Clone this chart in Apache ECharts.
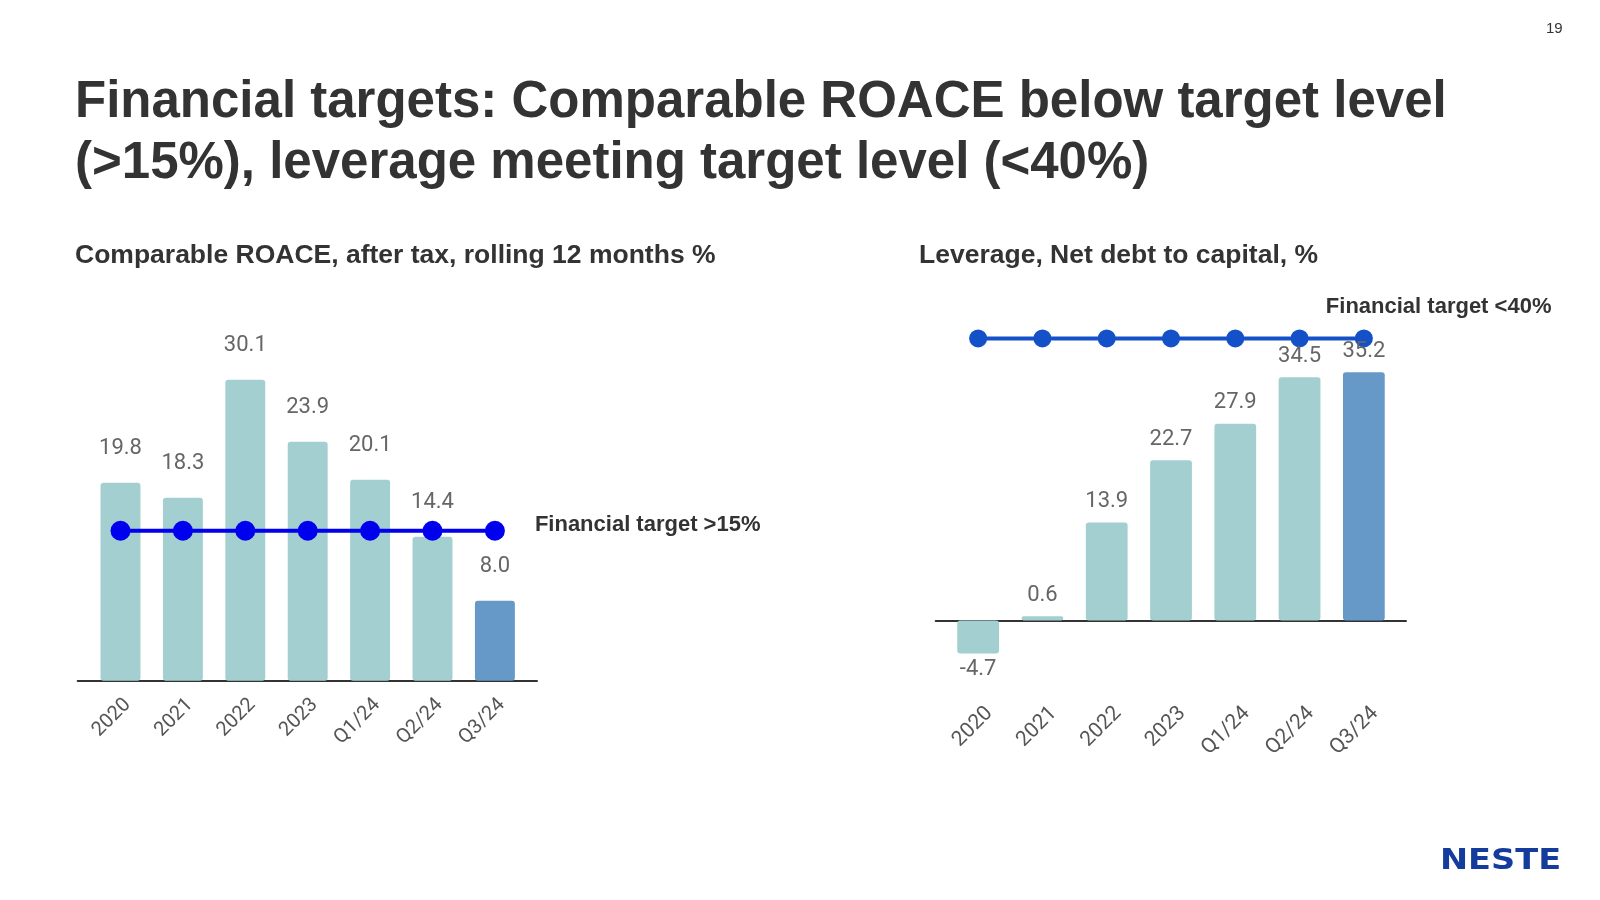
<!DOCTYPE html>
<html>
<head>
<meta charset="utf-8">
<style>
  html, body { margin: 0; padding: 0; background: #ffffff; }
  #chart { width: 1600px; height: 900px; }
</style>
<script src="https://cdn.jsdelivr.net/npm/echarts@6/dist/echarts.min.js"></script>
</head>
<body>
<div id="chart"></div>
<script>
const categories = ['2020', '2021', '2022', '2023', 'Q1/24', 'Q2/24', 'Q3/24'];
const roaceValues = [19.8, 18.3, 30.1, 23.9, 20.1, 14.4, 8.0];
const roaceTarget = [15, 15, 15, 15, 15, 15, 15];
const leverageValues = [-4.7, 0.6, 13.9, 22.7, 27.9, 34.5, 35.2];
const leverageTarget = [40, 40, 40, 40, 40, 40, 40];

const mainTitle = 'Financial targets: Comparable ROACE below target level\n(>15%), leverage meeting target level (<40%)';
const leftSubtitle = 'Comparable ROACE, after tax, rolling 12 months %';
const rightSubtitle = 'Leverage, Net debt to capital, %';
const leftTargetText = 'Financial target >15%';
const rightTargetText = 'Financial target <40%';
const pageNumber = '19';

const barColor = '#a3cfd0';
const currentColor = '#6699c8';
const valueFont = 'Roboto';
const lastIdx = categories.length - 1;

function barData(values, below) {
  return values.map((v, i) => ({
    value: v,
    itemStyle: { color: i === lastIdx ? currentColor : barColor },
    label: v < 0 ? { position: 'bottom', distance: below } : undefined
  }));
}
function lineData(values, text, offset) {
  return values.map((v, i) => i === lastIdx ? {
    value: v,
    label: {
      show: true, position: 'inside', align: 'left', verticalAlign: 'middle',
      offset: offset, formatter: text, color: '#333333', fontSize: 22,
      fontWeight: 'bold', fontFamily: 'Liberation Sans'
    }
  } : v);
}

const chart = echarts.init(document.getElementById('chart'), null, { renderer: 'canvas' });

const option = {
  animation: false,
  backgroundColor: '#ffffff',
  title: [
    { text: mainTitle, left: 70, top: 67,
      textStyle: { fontFamily: 'Liberation Sans', fontWeight: 'bold', fontSize: 51, lineHeight: 61, color: '#333333' } },
    { text: leftSubtitle, left: 70, top: 235,
      textStyle: { fontFamily: 'Liberation Sans', fontWeight: 'bold', fontSize: 26.5, lineHeight: 32, color: '#333333' } },
    { text: rightSubtitle, left: 914, top: 235,
      textStyle: { fontFamily: 'Liberation Sans', fontWeight: 'bold', fontSize: 26.5, lineHeight: 32, color: '#333333' } },
    { text: pageNumber, left: 1541, top: 15,
      textStyle: { fontFamily: 'Liberation Sans', fontWeight: 'normal', fontSize: 15, lineHeight: 18, color: '#333333' } }
  ],
  graphic: [
    { type: 'text', x: 1440, y: 848, scaleX: 1.2, scaleY: 1,
      style: { text: 'NESTE', font: 'bold 28px "DejaVu Sans"', fill: '#143c9c', textAlign: 'left', textVerticalAlign: 'top' } }
  ],
  grid: [
    { left: 89.3, top: 280.7, width: 436.8, height: 400 },
    { left: 946, top: 303.15, width: 450, height: 387.75 },
    { left: 77.7, top: 280.7, width: 459.3, height: 400 },
    { left: 935.7, top: 303.15, width: 470.3, height: 387.75 }
  ],
  xAxis: [
    { type: 'category', gridIndex: 0, data: categories,
      axisLine: { show: false }, axisTick: { show: false },
      axisLabel: { rotate: 45, fontSize: 20, fontFamily: valueFont, color: '#555555',
        verticalAlign: 'top', lineHeight: 20, margin: 14, interval: 0 } },
    { type: 'category', gridIndex: 1, data: categories,
      axisLine: { show: false }, axisTick: { show: false },
      axisLabel: { rotate: 45, fontSize: 21, fontFamily: valueFont, color: '#555555',
        verticalAlign: 'top', lineHeight: 32, margin: 8, interval: 0 } },
    { type: 'value', gridIndex: 2, min: 0, max: 1,
      axisLine: { show: true, onZero: true, lineStyle: { color: '#333333', width: 2 } },
      axisTick: { show: false }, axisLabel: { show: false }, splitLine: { show: false } },
    { type: 'value', gridIndex: 3, min: 0, max: 1,
      axisLine: { show: true, onZero: true, lineStyle: { color: '#333333', width: 2 } },
      axisTick: { show: false }, axisLabel: { show: false }, splitLine: { show: false } }
  ],
  yAxis: [
    { type: 'value', gridIndex: 0, min: 0, max: 40, show: false },
    { type: 'value', gridIndex: 1, min: -10, max: 45, show: false },
    { type: 'value', gridIndex: 2, min: 0, max: 40, show: false },
    { type: 'value', gridIndex: 3, min: -10, max: 45, show: false }
  ],
  series: [
    { type: 'bar', xAxisIndex: 0, yAxisIndex: 0, data: barData(roaceValues, 5),
      barCategoryGap: '36%', z: 2,
      itemStyle: { borderRadius: 3 },
      label: { show: true, position: 'top', distance: 23, fontSize: 22, fontFamily: valueFont,
        color: '#666666', formatter: p => p.value.toFixed(1) } },
    { type: 'line', xAxisIndex: 0, yAxisIndex: 0, data: lineData(roaceTarget, leftTargetText, [40, -6]),
      z: 3, symbol: 'circle', symbolSize: 20, showSymbol: true,
      itemStyle: { color: '#0000ee' }, lineStyle: { color: '#0000ee', width: 4 } },
    { type: 'bar', xAxisIndex: 1, yAxisIndex: 1, data: barData(leverageValues, 5),
      barCategoryGap: '35%', z: 3,
      itemStyle: { borderRadius: 3 },
      label: { show: true, position: 'top', distance: 10, fontSize: 22, fontFamily: valueFont,
        color: '#666666', formatter: p => p.value.toFixed(1) } },
    { type: 'line', xAxisIndex: 1, yAxisIndex: 1, data: lineData(leverageTarget, rightTargetText, [-38, -31]),
      z: 2, symbol: 'circle', symbolSize: 18, showSymbol: true,
      itemStyle: { color: '#1450c8' }, lineStyle: { color: '#1450c8', width: 4 } }
  ]
};
chart.setOption(option);
</script>
</body>
</html>
